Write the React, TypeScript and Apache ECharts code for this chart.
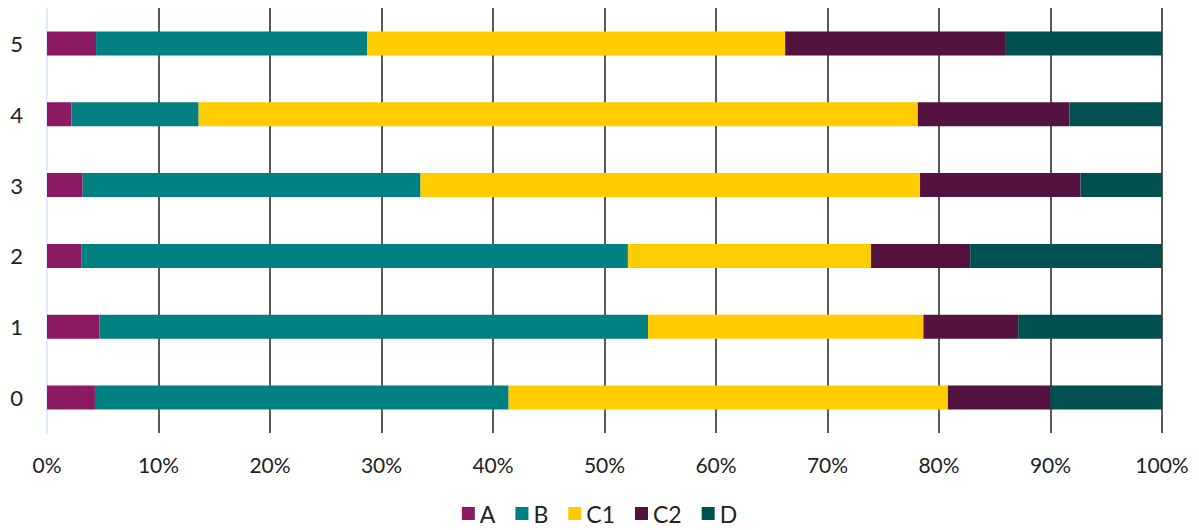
import React, { useEffect, useRef } from "react";
import * as echarts from "echarts";

const categories = ["0", "1", "2", "3", "4", "5"];
const seriesNames = ["A", "B", "C1", "C2", "D"];
const valuesA = [4.3, 4.7, 3.1, 3.2, 2.2, 4.4];
const valuesB = [37.1, 49.2, 49.0, 30.3, 11.4, 24.3];
const valuesC1 = [39.4, 24.7, 21.8, 44.8, 64.5, 37.5];
const valuesC2 = [9.2, 8.5, 8.9, 14.4, 13.6, 19.8];
const valuesD = [10.0, 12.9, 17.2, 7.3, 8.3, 14.0];
const colors = ["#8B1A63", "#008080", "#FFCC00", "#54123F", "#005050"];

export default function App() {
  const ref = useRef<HTMLDivElement>(null);
  useEffect(() => {
    if (!ref.current) return;
    const chart = echarts.init(ref.current, undefined, { renderer: "svg" });
    const all = [valuesA, valuesB, valuesC1, valuesC2, valuesD];
    const font = "Lato, 'DejaVu Sans', sans-serif";
    chart.setOption({
      animation: false,
      color: colors,
      grid: { left: 47, right: 37, top: 8, bottom: 97, containLabel: false },
      legend: {
        bottom: 0,
        left: "center",
        itemWidth: 13,
        itemHeight: 13,
        itemGap: 20,
        icon: "rect",
        textStyle: { fontFamily: font, fontSize: 23, color: "#222", padding: [0, 0, 0, 0] },
        data: seriesNames,
      },
      xAxis: {
        type: "value",
        min: 0,
        max: 100,
        interval: 10,
        axisLabel: {
          formatter: "{value}%",
          fontFamily: font,
          fontSize: 21,
          color: "#222",
          margin: 21,
        },
        axisLine: { show: false },
        axisTick: { show: false },
        splitLine: { show: true, lineStyle: { color: "#595959", width: 2 } },
      },
      yAxis: {
        type: "category",
        data: categories,
        axisLine: { show: true, lineStyle: { color: "#DDEEFF", width: 2 } },
        axisTick: { show: false },
        axisLabel: { fontFamily: font, fontSize: 22, color: "#222", margin: 24 },
      },
      series: seriesNames.map((name, i) => ({
        name,
        type: "bar",
        stack: "total",
        barWidth: 24,
        data: all[i],
        itemStyle: { color: colors[i] },
      })),
    });
    return () => chart.dispose();
  }, []);
  return <div ref={ref} style={{ width: 1199, height: 530, position: "absolute", left: 0, top: 0 }} />;
}
